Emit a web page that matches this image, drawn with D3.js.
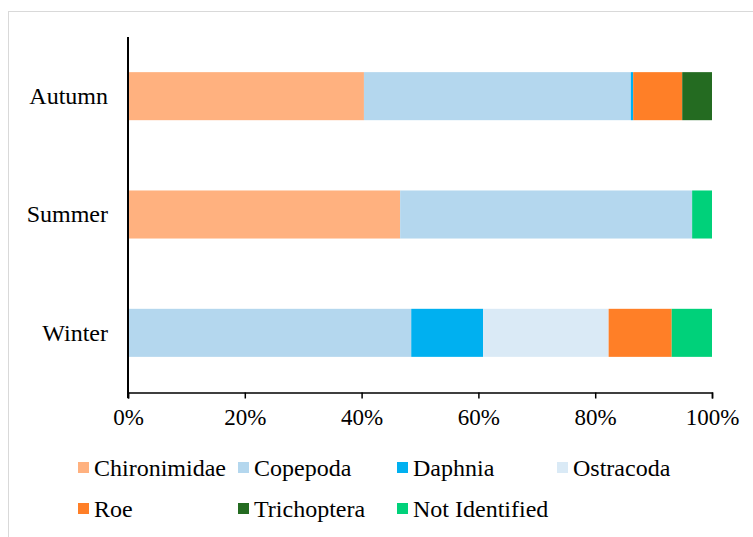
<!DOCTYPE html>
<html>
<head>
<meta charset="utf-8">
<script src="https://cdn.jsdelivr.net/npm/d3@7"></script>
<style>
  html, body { margin: 0; padding: 0; background: #fff; }
  svg { display: block; }
</style>
</head>
<body>
<svg id="chart" width="753" height="537"></svg>
<script>
const seasons = ["Autumn", "Summer", "Winter"];
const taxa = ["Chironimidae", "Copepoda", "Daphnia", "Ostracoda", "Roe", "Trichoptera", "Not Identified"];
const colors = ["#FFB17F", "#B4D7EE", "#00B0F0", "#DAEAF6", "#FF7F27", "#246B21", "#00D17A"];
const chironimidae = [40.4, 46.6, 0];
const copepoda     = [45.7, 50.0, 48.5];
const daphnia      = [0.4, 0, 12.3];
const ostracoda    = [0, 0, 21.5];
const roe          = [8.4, 0, 10.8];
const trichoptera  = [5.1, 0, 0];
const notIdentified= [0, 3.4, 6.9];
const xTicks = [0, 0.2, 0.4, 0.6, 0.8, 1.0];

const seriesValues = [chironimidae, copepoda, daphnia, ostracoda, roe, trichoptera, notIdentified];
const table = seasons.map((s, i) => {
  const row = { season: s };
  taxa.forEach((t, j) => { row[t] = seriesValues[j][i] / 100; });
  return row;
});

const FONT = "Liberation Serif";
const svg = d3.select("#chart");

// outer frame
svg.append("rect")
  .attr("x", 8.5).attr("y", 11.5)
  .attr("width", 800).attr("height", 600)
  .attr("fill", "none").attr("stroke", "#d9d9d9").attr("stroke-width", 1);

const x = d3.scaleLinear().domain([0, 1]).range([128, 712]);
const y = d3.scaleBand().domain(seasons).range([37, 392])
  .paddingInner(0.594).paddingOuter(0.297);
const color = d3.scaleOrdinal().domain(taxa).range(colors);

const series = d3.stack().keys(taxa)(table);

svg.append("g").selectAll("g")
  .data(series).join("g")
  .attr("fill", d => color(d.key))
  .selectAll("rect")
  .data(d => d).join("rect")
  .attr("x", d => x(d[0]))
  .attr("y", d => y(d.data.season))
  .attr("width", d => Math.max(0, x(d[1]) - x(d[0])))
  .attr("height", y.bandwidth());

// x axis
const xAxis = svg.append("g")
  .attr("transform", "translate(0,392.5)")
  .call(d3.axisBottom(x).tickValues(xTicks).tickFormat(d3.format(".0%")).tickSizeOuter(6).tickSize(6).tickPadding(10));
xAxis.attr("font-family", FONT);
xAxis.select(".domain").attr("stroke", "#000").attr("stroke-width", 1.5);
xAxis.selectAll(".tick line").attr("stroke", "#000").attr("stroke-width", 1.5);
xAxis.selectAll("text").attr("font-size", 23).attr("font-family", FONT).attr("fill", "#000");

// y axis
const yAxis = svg.append("g")
  .attr("transform", "translate(128,0)")
  .call(d3.axisLeft(y).tickSize(0).tickSizeOuter(0).tickPadding(20));
yAxis.attr("font-family", FONT);
yAxis.select(".domain").attr("stroke", "#000").attr("stroke-width", 2)
  .attr("d", "M0,37V398");
yAxis.selectAll("text").attr("font-size", 24).attr("font-family", FONT).attr("fill", "#000");

// legend
const legendPos = [
  [78, 468], [238, 468], [397, 468], [557, 468],
  [78, 509], [238, 509], [397, 509]
];
const legend = svg.append("g").attr("font-family", FONT).selectAll("g")
  .data(taxa).join("g")
  .attr("transform", (d, i) => `translate(${legendPos[i][0]},${legendPos[i][1]})`);
legend.append("rect")
  .attr("x", 0).attr("y", -6).attr("width", 11).attr("height", 11)
  .attr("fill", d => color(d));
legend.append("text")
  .attr("x", 16).attr("y", 0).attr("dy", "0.35em")
  .attr("font-size", 24)
  .attr("font-family", FONT)
  .attr("fill", "#000")
  .text(d => d);
</script>
</body>
</html>
